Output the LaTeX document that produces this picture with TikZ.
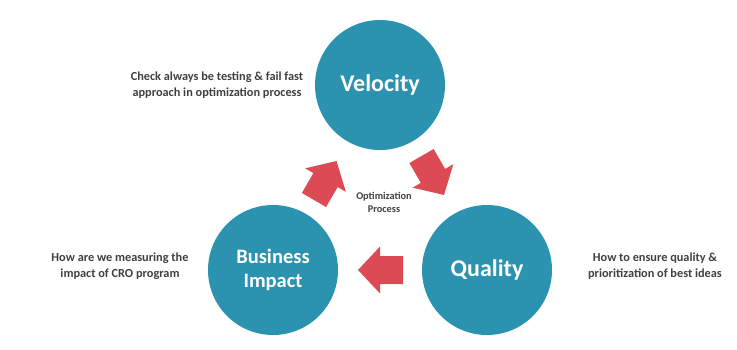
\documentclass[tikz,border=0pt]{standalone}
\usepackage{fontspec}
\setmainfont{Carlito}
\definecolor{teal}{HTML}{2B93AF}
\definecolor{arrowred}{HTML}{DC4A55}
\definecolor{txtgray}{HTML}{404040}
\begin{document}
\begin{tikzpicture}[x=1pt,y=1pt,
  circ/.style={circle,fill=teal,minimum size=130pt,inner sep=0pt,text=white,font=\bfseries,align=center},
  sidetxt/.style={text=txtgray,font=\fontsize{12.3}{16}\selectfont\bfseries,align=center,inner sep=0pt},
  blockarrow/.style={fill=arrowred,draw=none}]
\useasboundingbox (0,0) rectangle (737,-349);
\fill[white] (0,0) rectangle (737,-349);
\node[circ,font=\fontsize{24}{28}\selectfont\bfseries] (vel) at (380,-85) {Velocity};
\node[circ,font=\fontsize{20.5}{24}\selectfont\bfseries] (bus) at (273,-270) {Business\\Impact};
\node[circ,font=\fontsize{24}{28}\selectfont\bfseries] (qua) at (487,-270) {Quality};
\node[text=txtgray,font=\fontsize{10.3}{13}\selectfont\bfseries,align=center,inner sep=0pt] (opt) at (384,-202) {Optimization\\Process};
\node[sidetxt] (t1) at (217,-85) {Check always be testing \& fail fast\\approach in optimization process};
\node[sidetxt] (t2) at (120,-266) {How are we measuring the\\impact of CRO program};
\node[sidetxt] (t3) at (655,-266) {How to ensure quality \&\\prioritization of best ideas};
\foreach \name/\px/\py/\ang in {a1/314/-200/60, a2/421.5/-156/-60, a3/403/-270/180}{
  \begin{scope}[shift={(\px,\py)},rotate=\ang]
    \fill[blockarrow] (0,-14) -- (23,-14) -- (23,-23.5) -- (45,0) -- (23,23.5) -- (23,14) -- (0,14) -- cycle;
  \end{scope}
}
\end{tikzpicture}
\end{document}
